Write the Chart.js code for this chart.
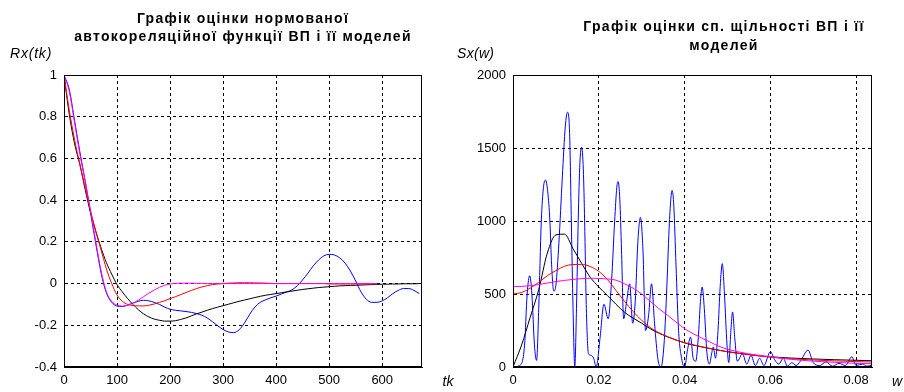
<!DOCTYPE html>
<html>
<head>
<meta charset="utf-8">
<script src="https://cdn.jsdelivr.net/npm/chart.js@4.4.0/dist/chart.umd.min.js"></script>
<style>
html, body { margin: 0; padding: 0; background: #fff; }
#wrap { position: relative; width: 904px; height: 392px; }
canvas { position: absolute; left: 0; top: 0; }
</style>
</head>
<body>
<div id="wrap">
  <canvas id="acf" width="904" height="392"></canvas>
  <canvas id="psd" width="904" height="392"></canvas>
</div>
<script>
// ---- autocorrelation (left) ----
var tk = [0, 10, 20, 30, 40, 50, 60, 70, 80, 90,
  100, 110, 120, 130, 140, 150, 160, 170, 180, 190,
  200, 210, 220, 230, 240, 250, 260, 270, 280, 290,
  300, 310, 320, 330, 340, 350, 360, 370, 380, 390,
  400, 410, 420, 430, 440, 450, 460, 470, 480, 490,
  500, 510, 520, 530, 540, 550, 560, 570, 580, 590,
  600, 610, 620, 630, 640, 650, 660, 670];

var rxEst = [1.0, 0.93, 0.78, 0.63, 0.49, 0.34, 0.19, 0.05, -0.045, -0.09,
  -0.108, -0.11, -0.103, -0.093, -0.085, -0.08, -0.083, -0.09, -0.1, -0.113,
  -0.123, -0.128, -0.131, -0.134, -0.138, -0.144, -0.152, -0.165, -0.183, -0.203,
  -0.22, -0.232, -0.235, -0.222, -0.19, -0.148, -0.112, -0.09, -0.078, -0.068,
  -0.06, -0.05, -0.04, -0.03, -0.01, 0.018, 0.05, 0.085, 0.113, 0.133,
  0.14, 0.137, 0.123, 0.098, 0.06, 0.012, -0.04, -0.075, -0.09, -0.09,
  -0.083, -0.068, -0.048, -0.033, -0.024, -0.024, -0.033, -0.048];

var rxModel1 = [1.0, 0.81, 0.67, 0.57, 0.45, 0.34, 0.25, 0.17, 0.10, 0.045,
  -0.005, -0.04, -0.072, -0.10, -0.125, -0.145, -0.16, -0.17, -0.176, -0.18,
  -0.18, -0.178, -0.172, -0.165, -0.155, -0.145, -0.137, -0.128, -0.12, -0.113,
  -0.106, -0.099, -0.092, -0.085, -0.079, -0.073, -0.067, -0.061, -0.056, -0.052,
  -0.048, -0.044, -0.04, -0.036, -0.032, -0.028, -0.025, -0.022, -0.019, -0.017,
  -0.015, -0.013, -0.011, -0.01, -0.009, -0.008, -0.007, -0.006, -0.005, -0.004,
  -0.003, -0.003, -0.002, -0.002, -0.001, -0.001, -0.001, 0];

var rxModel2 = [1.0, 0.83, 0.69, 0.57, 0.46, 0.35, 0.25, 0.16, 0.07, 0.0,
  -0.055, -0.085, -0.1, -0.105, -0.107, -0.107, -0.104, -0.098, -0.09, -0.082,
  -0.072, -0.063, -0.053, -0.043, -0.033, -0.024, -0.016, -0.01, -0.005, -0.002,
  0.0, 0.002, 0.003, 0.004, 0.004, 0.004, 0.003, 0.003, 0.002, 0.001,
  0, 0, 0, 0, 0, 0, 0, 0, 0, 0,
  -0.002, -0.002, -0.002, -0.002, -0.002, -0.002, -0.002, -0.002, -0.002, -0.002];

var rxModel3 = [1.0, 0.92, 0.77, 0.62, 0.49, 0.35, 0.2, 0.06, -0.04, -0.085,
  -0.103, -0.108, -0.104, -0.094, -0.08, -0.063, -0.046, -0.031, -0.018, -0.008,
  -0.002, 0.001, 0.002, 0.002, 0.002, 0.001, 0.001, 0, 0, 0,
  0, 0, 0, 0, 0, 0, 0, 0, 0, 0,
  0, 0, 0, 0, 0, 0, 0, 0, 0, 0,
  0, 0, 0, 0, 0, 0, 0, 0, 0, 0];

var tkTicks = [0, 100, 200, 300, 400, 500, 600];
var rxTicks = [-0.4, -0.2, 0, 0.2, 0.4, 0.6, 0.8, 1];

// ---- spectral density (right) ----
var wEst = [0, 0.0015, 0.0027, 0.0033, 0.0039, 0.0044, 0.0050, 0.0055,
  0.0060, 0.0066, 0.0071, 0.0076, 0.0081, 0.0086, 0.0090, 0.0095,
  0.0100, 0.0107, 0.0115, 0.0122, 0.0127, 0.0132, 0.0136, 0.0140, 0.0144,
  0.0148, 0.0152, 0.0156, 0.0160, 0.0164, 0.0167, 0.0171, 0.0176, 0.0182, 0.0188, 0.0194,
  0.0203, 0.0212, 0.0222, 0.0230, 0.0237, 0.0242, 0.0245, 0.0249, 0.0253, 0.0258,
  0.0265, 0.0272, 0.0279,
  0.0285, 0.0291, 0.0297, 0.0303, 0.0309,
  0.0316, 0.0323, 0.0330, 0.0338, 0.0345,
  0.0352, 0.0358, 0.0364, 0.0368, 0.0371, 0.0375, 0.0380, 0.0386, 0.0393, 0.0400,
  0.0407, 0.0414, 0.0420, 0.0426,
  0.0432, 0.0437, 0.0441, 0.0446, 0.0452, 0.0458,
  0.0463, 0.0467, 0.0472,
  0.0478, 0.0483, 0.0488, 0.0493, 0.0499, 0.0503,
  0.0508, 0.0512, 0.0517, 0.0523,
  0.0535, 0.0545, 0.0555, 0.0565, 0.0575, 0.0585, 0.0600, 0.0610, 0.0620, 0.0630,
  0.0640, 0.0650, 0.0660, 0.0670, 0.0688, 0.0700, 0.0715, 0.0730, 0.0745, 0.0760,
  0.0775, 0.0790, 0.0800, 0.0815, 0.0825, 0.0837];

var sEst = [0, 10, 150, 500, 625, 500, 150, 45,
  400, 1000, 1230, 1280, 1200, 1000, 700, 520,
  560, 850, 1300, 1650, 1745, 1600, 1000, 400, 0,
  400, 1000, 1400, 1505, 1350, 1000, 400, 90, 80, 60, 0,
  200, 430, 330, 600, 1000, 1230, 1270, 1150, 800, 330,
  450, 570, 300,
  450, 850, 1025, 800, 250,
  350, 570, 300, 50, 0,
  150, 500, 950, 1150, 1210, 1100, 700, 250, 60, 0,
  120, 205, 60, 40,
  200, 450, 548, 400, 100, 20,
  90, 137, 60,
  250, 550, 708, 500, 150, 30,
  250, 377, 200, 40,
  90, 20, 80, 10, 60, 10, 105, 50, 20, 60,
  5, 30, 10, 40, 115, 30, 10, 35, 5, 25,
  10, 70, 10, 20, 5, 15];

var wModel = [0, 0.002, 0.004, 0.006, 0.008, 0.010, 0.012, 0.014, 0.016, 0.018,
  0.020, 0.022, 0.024, 0.026, 0.028, 0.030, 0.032, 0.034, 0.036, 0.038,
  0.040, 0.042, 0.044, 0.046, 0.048, 0.050, 0.055, 0.060, 0.065, 0.070,
  0.075, 0.080, 0.0837];

var sModel1 = [0, 150, 340, 530, 780, 905, 910, 810, 710, 615,
  548, 490, 430, 375, 335, 300, 262, 232, 207, 185,
  165, 150, 138, 126, 115, 105, 85, 70, 61, 55,
  50, 46, 43];

var sModel2 = [500, 510, 540, 580, 625, 660, 690, 702, 703, 688,
  655, 600, 525, 450, 380, 320, 270, 235, 208, 185,
  167, 152, 138, 126, 115, 104, 84, 67, 56, 48,
  42, 37, 34];

var sModel3 = [550, 552, 557, 565, 575, 585, 593, 600, 605, 608,
  607, 603, 595, 570, 540, 500, 450, 400, 355, 308,
  263, 228, 198, 170, 142, 122, 90, 70, 52, 40,
  32, 25, 22];

var wTicks = [0, 0.02, 0.04, 0.06, 0.08];
var sTicks = [0, 500, 1000, 1500, 2000];

function zip(xs, ys) {
  var out = [];
  for (var i = 0; i < ys.length; i++) out.push({ x: xs[i], y: ys[i] });
  return out;
}

var FONT = 'Liberation Sans, Arial, sans-serif';

var framePlugin = {
  id: 'frame',
  afterDraw: function(chart, args, opts) {
    var ctx = chart.ctx, a = chart.chartArea;
    ctx.save();
    ctx.strokeStyle = '#000';
    ctx.lineWidth = 1;
    ctx.strokeRect(Math.round(a.left) + 0.5, Math.round(a.top) + 0.5,
      Math.round(a.right - a.left) - 1, Math.round(a.bottom - a.top) - 1);
    ctx.fillStyle = '#000';
    ctx.textBaseline = 'middle';
    (opts.items || []).forEach(function(it) {
      ctx.font = it.font;
      ctx.letterSpacing = it.spacing || '0px';
      ctx.textAlign = it.align || 'center';
      ctx.fillText(it.text, it.x, it.y);
    });
    ctx.restore();
  }
};

function makeScale(min, max, ticks, isX, size) {
  return {
    type: 'linear',
    min: min,
    max: max,
    afterBuildTicks: function(s) { s.ticks = ticks.map(function(v) { return { value: v }; }); },
    afterFit: function(s) { if (isX) s.height = size; else s.width = size; },
    grid: { color: '#000', lineWidth: 1, drawTicks: false },
    border: { display: true, color: '#000', width: 1, dash: [3, 3] },
    ticks: {
      color: '#000',
      font: { family: FONT, size: 13 },
      padding: isX ? 6 : 7,
      maxRotation: 0,
      autoSkip: false,
      callback: function(v) { return String(v); }
    }
  };
}

function commonOptions(padding, xScale, yScale, items) {
  return {
    responsive: false,
    animation: false,
    devicePixelRatio: 1,
    layout: { padding: padding },
    elements: {
      line: { borderWidth: 1, cubicInterpolationMode: 'monotone', fill: false },
      point: { radius: 0 }
    },
    plugins: {
      legend: { display: false },
      tooltip: { enabled: false },
      frame: { items: items }
    },
    scales: { x: xScale, y: yScale }
  };
}

var titleFont = 'bold 14px ' + FONT;
var labelFont = 'italic 14px ' + FONT;

new Chart(document.getElementById('acf'), {
  type: 'line',
  data: {
    datasets: [
      { data: zip(tk, rxModel3), borderColor: '#ff00ff' },
      { data: zip(tk, rxModel2), borderColor: '#ff0000' },
      { data: zip(tk, rxModel1), borderColor: '#000000' },
      { data: zip(tk, rxEst), borderColor: '#0000ff' }
    ]
  },
  options: commonOptions(
    { left: 0, top: 75, right: 482, bottom: 0 },
    makeScale(0, 675, tkTicks, true, 25),
    makeScale(-0.4, 1, rxTicks, false, 64),
    [
      { text: 'Графік оцінки нормованої', x: 243, y: 19, font: titleFont, spacing: '1.3px' },
      { text: 'автокореляційної функції ВП і її моделей', x: 243, y: 37, font: titleFont, spacing: '1.3px' },
      { text: 'Rx(tk)', x: 10, y: 54, font: labelFont, align: 'left', spacing: '0.8px' },
      { text: 'tk', x: 448, y: 382, font: labelFont }
    ]
  ),
  plugins: [framePlugin]
});

new Chart(document.getElementById('psd'), {
  type: 'line',
  data: {
    datasets: [
      { data: zip(wModel, sModel3), borderColor: '#ff00ff' },
      { data: zip(wModel, sModel2), borderColor: '#ff0000' },
      { data: zip(wModel, sModel1), borderColor: '#000000' },
      { data: zip(wEst, sEst), borderColor: '#0000ff' }
    ]
  },
  options: commonOptions(
    { left: 449, top: 75, right: 32, bottom: 0 },
    makeScale(0, 0.0837, wTicks, true, 25),
    makeScale(0, 2000, sTicks, false, 64),
    [
      { text: 'Графік оцінки сп. щільності ВП і її', x: 724, y: 27, font: titleFont, spacing: '1.3px' },
      { text: 'моделей', x: 724, y: 46, font: titleFont, spacing: '1.3px' },
      { text: 'Sx(w)', x: 457, y: 54, font: labelFont, align: 'left', spacing: '0.3px' },
      { text: 'w', x: 897, y: 382, font: labelFont }
    ]
  ),
  plugins: [framePlugin]
});
</script>
</body>
</html>
